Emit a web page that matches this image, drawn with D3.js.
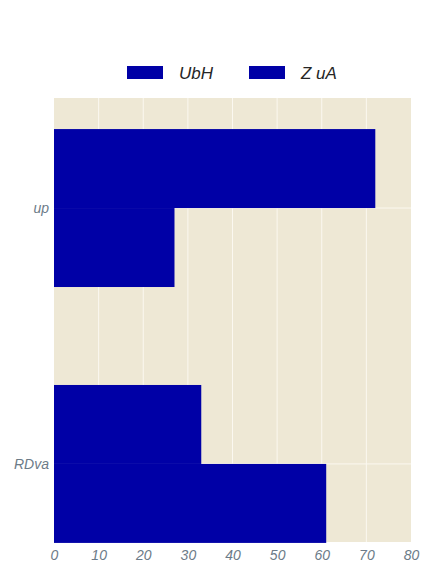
<!DOCTYPE html>
<meta charset="utf-8">
<head>
  <script src="https://d3js.org/d3.v7.min.js"></script>
  <style>
    body { margin: 0; background: #fff; }
    text { font-family: "Liberation Sans", Arial, sans-serif; font-style: italic; }
  </style>
</head>
<body>
<div id="chart"></div>
<script>
  // data
  var categories = ["up", "RDva"];
  var series = ["UbH", "Z uA"];
  var ubhValues = [72, 33];
  var zuaValues = [27, 61];
  var xTicks = [0, 10, 20, 30, 40, 50, 60, 70, 80];

  var W = 432, H = 576;
  var plotLeft = 54, plotRight = 411, plotTop = 98, plotBottom = 542;
  var barColor = "#0000a6";

  var svg = d3.select("#chart").append("svg")
    .attr("width", W).attr("height", H);

  var x = d3.scaleLinear().domain([0, 80]).range([plotLeft, plotRight]);
  // category positions as numbers (0, 1) so the gap above the first group is kept
  var y = d3.scaleLinear().domain([-0.43, 1.305]).range([plotTop, plotBottom]);
  var barH = 0.3086;

  // background
  svg.append("rect")
    .attr("x", plotLeft).attr("y", plotTop)
    .attr("width", plotRight - plotLeft).attr("height", plotBottom - plotTop)
    .attr("fill", "#eee8d5");

  // grid
  svg.append("g").selectAll("line")
    .data(xTicks.slice(1, -1))
    .enter().append("line")
    .attr("x1", function(d) { return x(d); }).attr("x2", function(d) { return x(d); })
    .attr("y1", plotTop).attr("y2", plotBottom)
    .attr("stroke", "#fbf8f0").attr("stroke-width", 1);
  svg.append("g").selectAll("line")
    .data(categories)
    .enter().append("line")
    .attr("x1", plotLeft).attr("x2", plotRight)
    .attr("y1", function(d, i) { return y(i); }).attr("y2", function(d, i) { return y(i); })
    .attr("stroke", "#fbf8f0").attr("stroke-width", 1);

  // bars
  var rows = [];
  categories.forEach(function(c, i) {
    rows.push({ cat: i, off: -1, v: ubhValues[i] });
    rows.push({ cat: i, off: 0, v: zuaValues[i] });
  });
  svg.append("g").selectAll("rect")
    .data(rows)
    .enter().append("rect")
    .attr("x", x(0))
    .attr("y", function(d) { return y(d.cat + d.off * barH); })
    .attr("width", function(d) { return x(d.v) - x(0); })
    .attr("height", y(barH) - y(0))
    .attr("fill", barColor);

  // x axis labels
  var xAxis = svg.append("g")
    .attr("transform", "translate(0," + plotBottom + ")")
    .call(d3.axisBottom(x).tickValues(xTicks).tickSize(0).tickPadding(8));
  xAxis.select(".domain").remove();
  xAxis.selectAll("text")
    .attr("fill", "#6c7b88").style("font-size", "14px")
    .style("font-family", "'Liberation Sans', Arial, sans-serif");

  // y axis labels
  var yAxis = svg.append("g")
    .attr("transform", "translate(" + plotLeft + ",0)")
    .call(d3.axisLeft(y).tickValues([0, 1]).tickFormat(function(d) { return categories[d]; })
      .tickSize(0).tickPadding(5));
  yAxis.select(".domain").remove();
  yAxis.selectAll("text")
    .attr("fill", "#6c7b88").style("font-size", "14px")
    .style("font-family", "'Liberation Sans', Arial, sans-serif");

  // legend
  var legend = svg.append("g");
  var legX = [127, 249];
  series.forEach(function(s, i) {
    legend.append("rect")
      .attr("x", legX[i]).attr("y", 66)
      .attr("width", 36).attr("height", 13)
      .attr("fill", barColor);
    legend.append("text")
      .attr("x", legX[i] + 52).attr("y", 79)
      .attr("fill", "#262626")
      .style("font-size", "17px")
      .text(s);
  });
</script>
</body>
